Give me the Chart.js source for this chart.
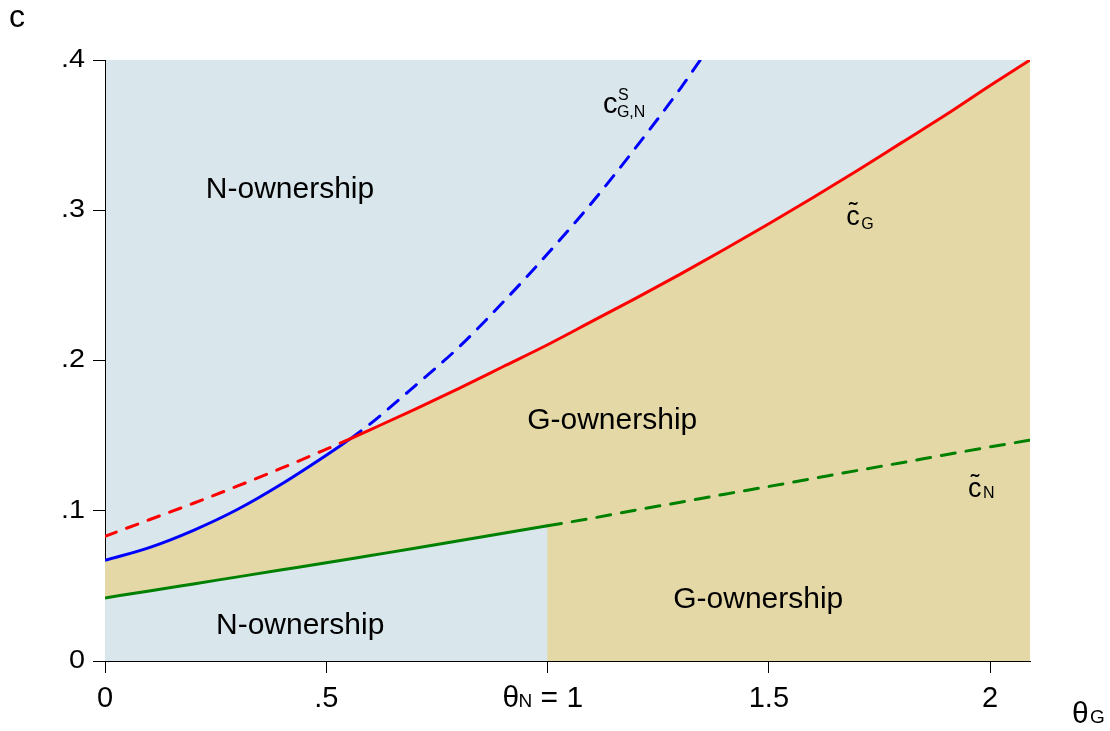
<!DOCTYPE html>
<html lang="en">
<head>
<meta charset="UTF-8">
<title>Ownership regions in (theta_G, c)</title>
<script src="https://cdn.jsdelivr.net/npm/chart.js@4.4.1/dist/chart.umd.min.js"></script>
<style>
  html, body { margin: 0; padding: 0; background: #fff; }
  #wrap { width: 1110px; height: 731px; }
</style>
</head>
<body>
<div id="wrap"><canvas id="chart" width="1110" height="731"></canvas></div>
<script>
// red and green curves share this theta_G grid
const thetaG  = [0, 0.1, 0.2, 0.3, 0.4, 0.5, 0.6, 0.7, 0.8, 0.9, 1.0, 1.1, 1.2, 1.3, 1.4, 1.5, 1.6, 1.7, 1.8, 1.9, 2.0, 2.09];
const cTildeG = [0.083, 0.094, 0.105, 0.1165, 0.1285, 0.141, 0.154, 0.1675, 0.1815, 0.196, 0.2105, 0.226, 0.2415, 0.2575, 0.274, 0.291, 0.3085, 0.3265, 0.345, 0.3635, 0.383, 0.400];
const cTildeN = [0.042, 0.0466, 0.0513, 0.056, 0.0607, 0.0654, 0.0702, 0.075, 0.080, 0.085, 0.090, 0.095, 0.1005, 0.1057, 0.111, 0.1162, 0.1215, 0.1268, 0.132, 0.1373, 0.1425, 0.147];

// blue curve leaves the plot at c = .4
const thetaS = [0, 0.1, 0.2, 0.3, 0.4, 0.5, 0.6, 0.7, 0.8, 0.9, 1.0, 1.1, 1.2, 1.3, 1.345];
const cS     = [0.067, 0.0755, 0.087, 0.101, 0.118, 0.137, 0.158, 0.183, 0.209, 0.239, 0.271, 0.305, 0.342, 0.381, 0.400];

// where blue meets red, and the N threshold
const crossX = 0.555, crossY = 0.148;
const thetaN = 1;

const xTicks = [0, 0.5, 1, 1.5, 2];
const xTickLabels = ['0', '.5', '', '1.5', '2'];
const yTicks = [0, 0.1, 0.2, 0.3, 0.4];
const yTickLabels = ['0', '.1', '.2', '.3', '.4'];

const regionLabels = [
    { text: 'N-ownership', x: 0.418, y: 0.3135 },
    { text: 'G-ownership', x: 1.146, y: 0.160 },
    { text: 'N-ownership', x: 0.441, y: 0.0233 },
    { text: 'G-ownership', x: 1.476, y: 0.0406 }
];

const LIGHT = '#d9e6ec';
const TAN = '#e4d8a6';
const RED = '#ff0000';
const BLUE = '#0000ff';
const GREEN = '#008000';
const FONT = '"Liberation Sans", Arial, sans-serif';

const pts = (xs, ys) => xs.map((x, i) => ({ x: x, y: ys[i] }));
const red = pts(thetaG, cTildeG);
const green = pts(thetaG, cTildeN);
const blue = pts(thetaS, cS);
const cross = { x: crossX, y: crossY };
const before = (arr, lim) => arr.filter(p => p.x < lim);
const after = (arr, lim) => arr.filter(p => p.x > lim);

const redDashed = [...before(red, crossX), cross];
const redSolid = [cross, ...after(red, crossX)];
const blueSolid = [...before(blue, crossX), cross];
const blueDashed = [cross, ...after(blue, crossX)];
const greenSolid = green.filter(p => p.x <= thetaN);
const greenDashed = green.filter(p => p.x >= thetaN);
// G-ownership upper edge: lower of blue/red, then red
const tanTop = [...before(blue, crossX), cross, ...after(red, crossX)];
// N-ownership below green up to theta_N
const nLow = [...greenSolid, { x: thetaN, y: 0 }];

function line(data, color, dash) {
    return {
        data: data,
        borderColor: color,
        borderWidth: 3,
        borderDash: dash || [],
        borderCapStyle: dash ? 'round' : 'butt',
        borderJoinStyle: 'round',
        pointRadius: 0,
        fill: false,
        cubicInterpolationMode: 'monotone'
    };
}

function area(data, color, smooth) {
    const ds = {
        data: data,
        borderWidth: 0,
        borderColor: 'rgba(0,0,0,0)',
        backgroundColor: color,
        pointRadius: 0,
        fill: 'origin',
        tension: 0
    };
    if (smooth) ds.cubicInterpolationMode = 'monotone';
    return ds;
}

function txt(ctx, s, px, py, size, align, base, sx) {
    ctx.save();
    ctx.font = size + 'px ' + FONT;
    ctx.fillStyle = '#000';
    ctx.textAlign = align || 'left';
    ctx.textBaseline = base || 'alphabetic';
    ctx.translate(px, py);
    if (sx) ctx.scale(sx, 1);
    ctx.fillText(s, 0, 0);
    ctx.restore();
}

const plotBg = {
    id: 'plotBg',
    beforeDraw(chart) {
        const { ctx, chartArea: a } = chart;
        ctx.save();
        ctx.fillStyle = LIGHT;
        ctx.fillRect(a.left, a.top, a.right - a.left, a.bottom - a.top);
        ctx.restore();
    }
};

const texts = {
    id: 'texts',
    afterDraw(chart) {
        const ctx = chart.ctx;
        const xs = chart.scales.x, ys = chart.scales.y;
        const a = chart.chartArea;

        yTicks.forEach((v, i) => txt(ctx, yTickLabels[i], a.left - 20, ys.getPixelForValue(v), 25, 'right', 'middle', 1.15));
        xTicks.forEach((v, i) => {
            if (xTickLabels[i]) txt(ctx, xTickLabels[i], xs.getPixelForValue(v), a.bottom + 46, 29, 'center');
        });

        // theta_N = 1 under its tick
        const p1 = xs.getPixelForValue(thetaN);
        txt(ctx, 'θ', p1 - 45, a.bottom + 46, 30);
        txt(ctx, 'N', p1 - 29, a.bottom + 46, 19);
        txt(ctx, '= 1', p1 - 7, a.bottom + 46, 30);

        // axis titles
        txt(ctx, 'c', 9, 27, 32);
        txt(ctx, 'θ', 1072, 723, 30);
        txt(ctx, 'G', 1090, 723, 19);

        regionLabels.forEach(r => txt(ctx, r.text, xs.getPixelForValue(r.x), ys.getPixelForValue(r.y), 30, 'center', 'middle'));

        // curve labels
        let px = xs.getPixelForValue(1.675), py = ys.getPixelForValue(0.290);
        txt(ctx, 'c', px, py, 27);
        txt(ctx, '˜', px + 7, py - 5, 26, 'center');
        txt(ctx, 'G', px + 15, py + 4, 16);

        px = xs.getPixelForValue(1.950); py = ys.getPixelForValue(0.1092);
        txt(ctx, 'c', px, py, 27);
        txt(ctx, '˜', px + 7, py - 5, 26, 'center');
        txt(ctx, 'N', px + 15, py + 1, 16);

        px = xs.getPixelForValue(1.125); py = ys.getPixelForValue(0.3647);
        txt(ctx, 'c', px, py, 29);
        txt(ctx, 'S', px + 15, py - 13, 16);
        txt(ctx, 'G,N', px + 14, py + 4, 16);
    }
};

function axis(min, max, ticks) {
    return {
        type: 'linear',
        min: min,
        max: max,
        z: 1,
        afterBuildTicks: s => { s.ticks = ticks.map(v => ({ value: v })); },
        grid: { display: true, drawOnChartArea: false, drawTicks: true, tickLength: 12, color: '#000', lineWidth: 1 },
        border: { display: true, color: '#000', width: 1 },
        ticks: { display: false }
    };
}

new Chart(document.getElementById('chart'), {
    type: 'line',
    data: {
        datasets: [
            line(redSolid, RED),
            line(redDashed, RED, [12, 11]),
            line(blueSolid, BLUE),
            line(blueDashed, BLUE, [13, 11]),
            line(greenSolid, GREEN),
            line(greenDashed, GREEN, [14, 11]),
            area(nLow, LIGHT, false),
            area(tanTop, TAN, true)
        ]
    },
    options: {
        responsive: false,
        animation: false,
        layout: { padding: { left: 93, top: 60, right: 80, bottom: 58 } },
        scales: {
            x: axis(0, 2.09, xTicks),
            y: axis(0, 0.4, yTicks)
        },
        plugins: {
            legend: { display: false },
            tooltip: { enabled: false }
        }
    },
    plugins: [plotBg, texts]
});
</script>
</body>
</html>
